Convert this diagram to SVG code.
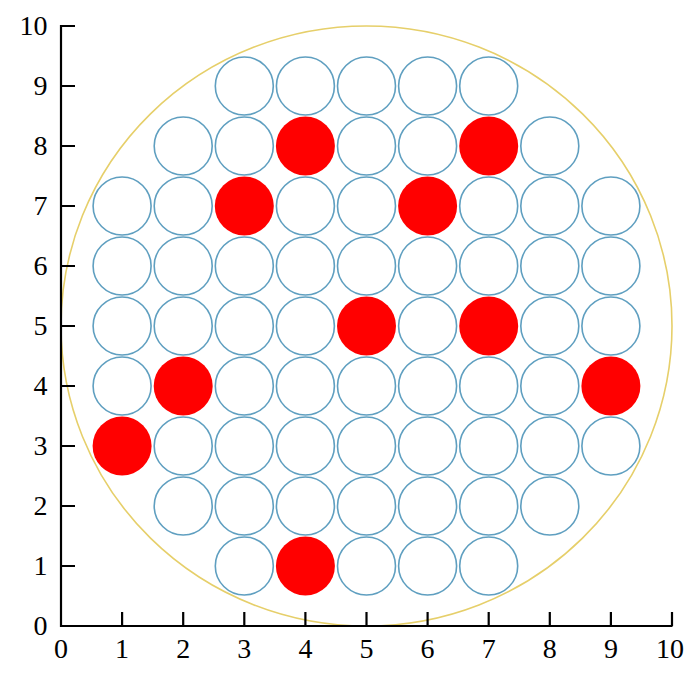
<svg xmlns="http://www.w3.org/2000/svg" width="700" height="677" viewBox="0 0 700 677">
<style>
.w{fill:#fff;stroke:#5f9fc0;stroke-width:1.6}
.r{fill:#ff0000;stroke:none}
.ax{stroke:#000;stroke-width:2.2;fill:none}
.t{font-family:"Liberation Serif","Times New Roman",serif;font-size:28px;fill:#000}
.yl{text-anchor:end}
.xl{text-anchor:middle}
</style>
<rect width="700" height="677" fill="#fff"/>
<g id="boundary"><ellipse cx="366.5" cy="326" rx="305.5" ry="300" fill="none" stroke="#e6cf6a" stroke-width="1.6"/></g>
<g id="rods">
<g id="r9"><circle class="w" cx="244.3" cy="86" r="29"/><circle class="w" cx="305.4" cy="86" r="29"/><circle class="w" cx="366.5" cy="86" r="29"/><circle class="w" cx="427.6" cy="86" r="29"/><circle class="w" cx="488.7" cy="86" r="29"/></g>
<g id="r8"><circle class="w" cx="183.2" cy="146" r="29"/><circle class="w" cx="244.3" cy="146" r="29"/><circle class="r" cx="305.4" cy="146" r="29.5"/><circle class="w" cx="366.5" cy="146" r="29"/><circle class="w" cx="427.6" cy="146" r="29"/><circle class="r" cx="488.7" cy="146" r="29.5"/><circle class="w" cx="549.8" cy="146" r="29"/></g>
<g id="r7"><circle class="w" cx="122.1" cy="206" r="29"/><circle class="w" cx="183.2" cy="206" r="29"/><circle class="r" cx="244.3" cy="206" r="29.5"/><circle class="w" cx="305.4" cy="206" r="29"/><circle class="w" cx="366.5" cy="206" r="29"/><circle class="r" cx="427.6" cy="206" r="29.5"/><circle class="w" cx="488.7" cy="206" r="29"/><circle class="w" cx="549.8" cy="206" r="29"/><circle class="w" cx="610.9" cy="206" r="29"/></g>
<g id="r6"><circle class="w" cx="122.1" cy="266" r="29"/><circle class="w" cx="183.2" cy="266" r="29"/><circle class="w" cx="244.3" cy="266" r="29"/><circle class="w" cx="305.4" cy="266" r="29"/><circle class="w" cx="366.5" cy="266" r="29"/><circle class="w" cx="427.6" cy="266" r="29"/><circle class="w" cx="488.7" cy="266" r="29"/><circle class="w" cx="549.8" cy="266" r="29"/><circle class="w" cx="610.9" cy="266" r="29"/></g>
<g id="r5"><circle class="w" cx="122.1" cy="326" r="29"/><circle class="w" cx="183.2" cy="326" r="29"/><circle class="w" cx="244.3" cy="326" r="29"/><circle class="w" cx="305.4" cy="326" r="29"/><circle class="r" cx="366.5" cy="326" r="29.5"/><circle class="w" cx="427.6" cy="326" r="29"/><circle class="r" cx="488.7" cy="326" r="29.5"/><circle class="w" cx="549.8" cy="326" r="29"/><circle class="w" cx="610.9" cy="326" r="29"/></g>
<g id="r4"><circle class="w" cx="122.1" cy="386" r="29"/><circle class="r" cx="183.2" cy="386" r="29.5"/><circle class="w" cx="244.3" cy="386" r="29"/><circle class="w" cx="305.4" cy="386" r="29"/><circle class="w" cx="366.5" cy="386" r="29"/><circle class="w" cx="427.6" cy="386" r="29"/><circle class="w" cx="488.7" cy="386" r="29"/><circle class="w" cx="549.8" cy="386" r="29"/><circle class="r" cx="610.9" cy="386" r="29.5"/></g>
<g id="r3"><circle class="r" cx="122.1" cy="446" r="29.5"/><circle class="w" cx="183.2" cy="446" r="29"/><circle class="w" cx="244.3" cy="446" r="29"/><circle class="w" cx="305.4" cy="446" r="29"/><circle class="w" cx="366.5" cy="446" r="29"/><circle class="w" cx="427.6" cy="446" r="29"/><circle class="w" cx="488.7" cy="446" r="29"/><circle class="w" cx="549.8" cy="446" r="29"/><circle class="w" cx="610.9" cy="446" r="29"/></g>
<g id="r2"><circle class="w" cx="183.2" cy="506" r="29"/><circle class="w" cx="244.3" cy="506" r="29"/><circle class="w" cx="305.4" cy="506" r="29"/><circle class="w" cx="366.5" cy="506" r="29"/><circle class="w" cx="427.6" cy="506" r="29"/><circle class="w" cx="488.7" cy="506" r="29"/><circle class="w" cx="549.8" cy="506" r="29"/></g>
<g id="r1"><circle class="w" cx="244.3" cy="566" r="29"/><circle class="r" cx="305.4" cy="566" r="29.5"/><circle class="w" cx="366.5" cy="566" r="29"/><circle class="w" cx="427.6" cy="566" r="29"/><circle class="w" cx="488.7" cy="566" r="29"/></g>
</g>
<g id="axes">
<path class="ax" d="M61,25 V626 H672.5 M61,26 H75 M61,86 H75 M61,146 H75 M61,206 H75 M61,266 H75 M61,326 H75 M61,386 H75 M61,446 H75 M61,506 H75 M61,566 H75 M122.1,626 V612 M183.2,626 V612 M244.3,626 V612 M305.4,626 V612 M366.5,626 V612 M427.6,626 V612 M488.7,626 V612 M549.8,626 V612 M610.9,626 V612 M672,626 V612"/>
<g class="t yl">
<text x="47.5" y="35">10</text><text x="47.5" y="95">9</text><text x="47.5" y="155">8</text><text x="47.5" y="215">7</text><text x="47.5" y="275">6</text><text x="47.5" y="335">5</text><text x="47.5" y="395">4</text><text x="47.5" y="455">3</text><text x="47.5" y="515">2</text><text x="47.5" y="575">1</text><text x="47.5" y="635">0</text>
</g>
<g class="t xl">
<text x="61" y="657.5">0</text><text x="122.1" y="657.5">1</text><text x="183.2" y="657.5">2</text><text x="244.3" y="657.5">3</text><text x="305.4" y="657.5">4</text><text x="366.5" y="657.5">5</text><text x="427.6" y="657.5">6</text><text x="488.7" y="657.5">7</text><text x="549.8" y="657.5">8</text><text x="610.9" y="657.5">9</text><text x="670" y="657.5">10</text>
</g>
</g>
</svg>
